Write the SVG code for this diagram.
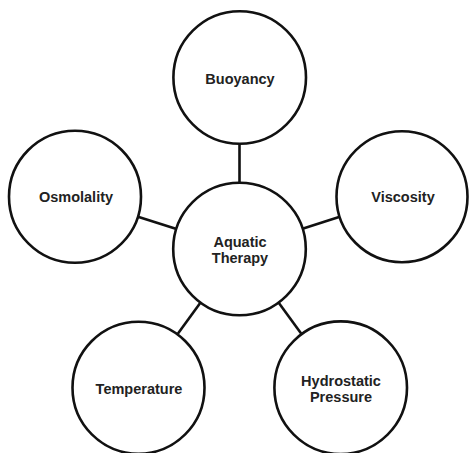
<svg xmlns="http://www.w3.org/2000/svg" width="469" height="453" viewBox="0 0 469 453">
<style>
.node circle{fill:#fff;stroke:#111;stroke-width:2.6}
.node text{font-family:"Liberation Sans",Arial,sans-serif;font-weight:bold;font-size:14.5px;fill:#222;text-anchor:middle}
#connectors line{stroke:#111;stroke-width:2.6}
</style>
<rect width="469" height="453" fill="#fff"/>
<g id="connectors">
<line x1="239.5" y1="249" x2="239.5" y2="77.5"/>
<line x1="239.5" y1="249" x2="75" y2="196.7"/>
<line x1="239.5" y1="249" x2="402" y2="196.7"/>
<line x1="239.5" y1="249" x2="138.5" y2="387.7"/>
<line x1="239.5" y1="249" x2="340.7" y2="387.7"/>
</g>
<g id="buoyancy" class="node"><circle cx="239.7" cy="77.5" r="66.3"/><text x="240" y="84">Buoyancy</text></g>
<g id="osmolality" class="node"><circle cx="75" cy="196.7" r="66"/><text x="76" y="202">Osmolality</text></g>
<g id="viscosity" class="node"><circle cx="402" cy="196.7" r="65.5"/><text x="403" y="202">Viscosity</text></g>
<g id="aquatic-therapy" class="node"><circle cx="239.5" cy="249" r="66.3"/><text x="240" y="246.5">Aquatic</text><text x="240" y="263">Therapy</text></g>
<g id="temperature" class="node"><circle cx="138.5" cy="387.7" r="66"/><text x="139" y="394">Temperature</text></g>
<g id="hydrostatic-pressure" class="node"><circle cx="340.7" cy="387.7" r="66.3"/><text x="341" y="385.5">Hydrostatic</text><text x="341" y="402">Pressure</text></g>
</svg>
